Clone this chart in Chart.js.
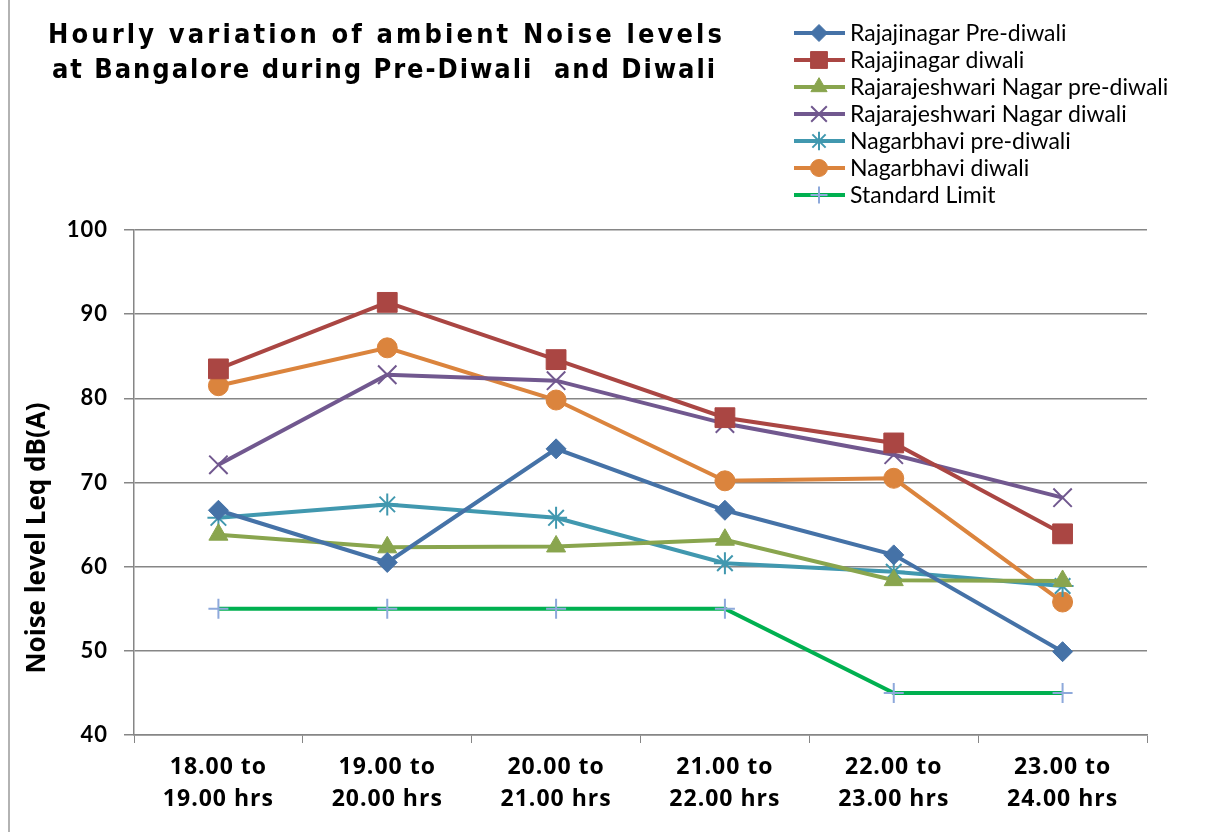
<!DOCTYPE html>
<html>
<head>
<meta charset="utf-8">
<script src="https://cdn.jsdelivr.net/npm/chart.js@4.4.1/dist/chart.umd.min.js"></script>
<style>
  html, body { margin: 0; padding: 0; background: #fff; }
  #wrap { width: 1205px; height: 832px; position: relative; }
</style>
</head>
<body>
<div id="wrap"><canvas id="noiseChart" width="1205" height="832"></canvas></div>
<script>
// Data
const hours = [
    ["18.00 to", "19.00 hrs"],
    ["19.00 to", "20.00 hrs"],
    ["20.00 to", "21.00 hrs"],
    ["21.00 to", "22.00 hrs"],
    ["22.00 to", "23.00 hrs"],
    ["23.00 to", "24.00 hrs"]
];
const rajajinagarPre = [66.7, 60.5, 74.0, 66.7, 61.4, 49.9];
const rajajinagarDiwali = [83.5, 91.4, 84.6, 77.7, 74.7, 63.9];
const rrNagarPre = [63.8, 62.3, 62.4, 63.2, 58.4, 58.3];
const rrNagarDiwali = [72.1, 82.8, 82.1, 77.0, 73.3, 68.2];
const nagarbhaviPre = [65.8, 67.4, 65.8, 60.4, 59.4, 57.7];
const nagarbhaviDiwali = [81.5, 86.0, 79.8, 70.2, 70.5, 55.8];
const standardLimit = [55, 55, 55, 55, 45, 45];
const yTicks = { min: 40, max: 100, step: 10 };

const titleLines = [
    "Hourly variation of ambient Noise levels",
    "at Bangalore during Pre-Diwali  and Diwali"
];

function series(label, data, color, style, radius, markerColor, bw) {
    return {
        label: label,
        data: data,
        borderColor: color,
        backgroundColor: color,
        borderWidth: 4,
        pointStyle: style,
        pointRadius: radius,
        pointHoverRadius: radius,
        pointBackgroundColor: markerColor || color,
        pointBorderColor: markerColor || color,
        pointBorderWidth: bw || 1,
        tension: 0
    };
}

const datasets = [
    series("Rajajinagar Pre-diwali", rajajinagarPre, "#4572A7", "rectRot", 10),
    series("Rajajinagar diwali", rajajinagarDiwali, "#AA4643", "rect", 14),
    series("Rajarajeshwari Nagar pre-diwali", rrNagarPre, "#89A54E", "triangle", 11),
    series("Rajarajeshwari Nagar diwali", rrNagarDiwali, "#71588F", "crossRot", 13, "#71588F", 2),
    series("Nagarbhavi pre-diwali", nagarbhaviPre, "#4198AF", "star", 11, "#4198AF", 2),
    series("Nagarbhavi diwali", nagarbhaviDiwali, "#DB843D", "circle", 10),
    series("Standard Limit", standardLimit, "#00B050", "cross", 10, "#8EA9DB", 2)
];

// axis labels in the original are a little spaced out
const spacedTicks = {
    id: "spacedTicks",
    beforeDraw(chart) { chart.ctx.letterSpacing = "1px"; },
    beforeDatasetsDraw(chart) { chart.ctx.letterSpacing = "0px"; }
};

// draws title, legend, y axis title and the outer frame line
const decorations = {
    id: "decorations",
    afterDraw(chart) {
        const ctx = chart.ctx;
        ctx.save();
        ctx.letterSpacing = "0px";

        // left frame line
        ctx.strokeStyle = "#9a9a9a";
        ctx.lineWidth = 1.5;
        ctx.beginPath();
        ctx.moveTo(9, 0);
        ctx.lineTo(9, 832);
        ctx.stroke();

        // title, each line spaced out to the width it has in the original
        ctx.fillStyle = "#000";
        ctx.font = "bold 27px 'DejaVu Sans'";
        ctx.fontStretch = "condensed";
        ctx.textAlign = "left";
        ctx.textBaseline = "middle";
        const titleBoxes = [[48, 674, 36], [52, 663, 71]];
        titleLines.forEach((line, i) => {
            const [x, w, y] = titleBoxes[i];
            ctx.letterSpacing = "0px";
            const w0 = ctx.measureText(line).width;
            ctx.letterSpacing = Math.max(0, (w - w0) / (line.length - 1)) + "px";
            ctx.fillText(line, x, y);
        });
        ctx.letterSpacing = "0px";
        ctx.fontStretch = "normal";

        // legend
        ctx.font = "23px Lato";
        ctx.textAlign = "left";
        chart.data.datasets.forEach((ds, i) => {
            const y = 33 + i * 27;
            ctx.strokeStyle = ds.borderColor;
            ctx.lineWidth = 4;
            ctx.beginPath();
            ctx.moveTo(794, y);
            ctx.lineTo(845, y);
            ctx.stroke();
            ctx.fillStyle = ds.pointBackgroundColor;
            ctx.strokeStyle = ds.pointBorderColor;
            ctx.lineWidth = ds.pointBorderWidth;
            Chart.helpers.drawPoint(ctx, {
                pointStyle: ds.pointStyle,
                radius: ds.pointRadius * 0.85,
                rotation: 0,
                borderWidth: ds.pointBorderWidth
            }, 819, y);
            ctx.fillStyle = "#000";
            ctx.fillText(ds.label, 850, y + 1);
        });

        // y axis title
        ctx.translate(38, 538);
        ctx.rotate(-Math.PI / 2);
        ctx.font = "bold 26px 'Open Sans'";
        ctx.textAlign = "center";
        ctx.fillStyle = "#000";
        ctx.fillText("Noise level Leq dB(A)", 0, 0);
        ctx.restore();
    }
};

new Chart(document.getElementById("noiseChart"), {
    type: "line",
    data: { labels: hours, datasets: datasets },
    options: {
        responsive: false,
        animation: false,
        layout: { padding: { top: 230, right: 58, left: 0, bottom: 0 } },
        plugins: {
            legend: { display: false },
            title: { display: false },
            tooltip: { enabled: false }
        },
        scales: {
            x: {
                offset: true,
                afterFit(scale) { scale.height = 97; },
                grid: {
                    display: true,
                    offset: true,
                    drawOnChartArea: false,
                    tickLength: 8,
                    color: "#868686"
                },
                border: { color: "#868686", width: 1.5 },
                ticks: {
                    color: "#000",
                    padding: 8,
                    maxRotation: 0,
                    autoSkip: false,
                    font: { family: "'Open Sans'", size: 23, weight: "bold", lineHeight: 1.4 }
                }
            },
            y: {
                min: yTicks.min,
                max: yTicks.max,
                afterFit(scale) { scale.width = 134; },
                grid: { color: "#868686", lineWidth: 1.5, tickLength: 10 },
                border: { color: "#868686", width: 1.5 },
                ticks: {
                    stepSize: yTicks.step,
                    color: "#000",
                    padding: 16,
                    font: { family: "Lato", size: 22, weight: "bold" }
                }
            }
        }
    },
    plugins: [spacedTicks, decorations]
});
</script>
</body>
</html>
